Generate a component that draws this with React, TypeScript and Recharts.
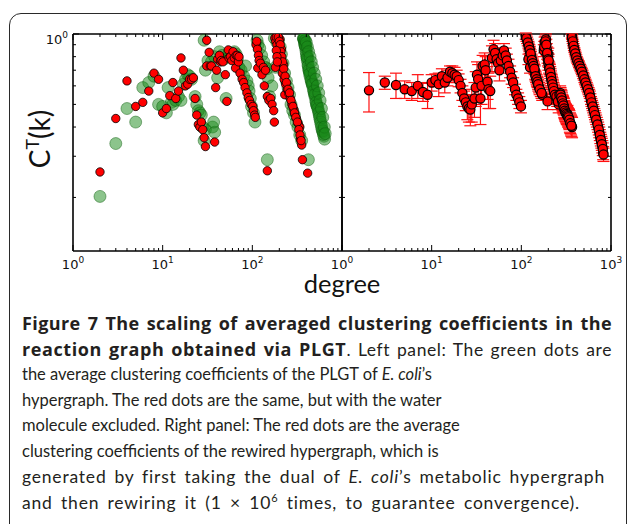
import React from 'react';
import { ScatterChart, Scatter, XAxis, YAxis, ErrorBar, ReferenceLine } from 'recharts';

// tick positions on both log axes
const xTicks = [1, 2, 3, 4, 5, 6, 7, 8, 9, 10, 20, 30, 40, 50, 60, 70, 80, 90, 100, 200, 300, 400, 500, 600, 700, 800, 900, 1000];
const yTicks = [0.2, 0.3, 0.4, 0.5, 0.6, 0.7, 0.8, 0.9, 1];

// left panel, green: PLGT of E. coli's hypergraph  [degree, C^T(k)]
const leftGreen: [number, number][] = [
  [2, 0.202], [3, 0.34], [4, 0.48], [5, 0.42], [6, 0.59], [7, 0.62], [8, 0.66], [9, 0.5], [10, 0.49],
  [11, 0.46], [11.5, 0.59], [12.5, 0.51], [13, 0.5], [14, 0.52], [15, 0.54], [16, 0.52], [17, 0.61],
  [18, 0.64], [19, 0.67], [20, 0.66], [21, 0.64], [23, 0.54], [24, 0.5], [25, 0.47], [26, 0.46],
  [27, 0.45], [28, 0.4], [29, 0.35], [30, 0.39], [36, 0.4], [38, 0.38], [37, 0.42],
  [29, 0.94], [30, 0.7], [32, 0.77], [35, 0.76], [38, 0.8], [41, 0.65], [43, 0.84], [46, 0.81],
  [48, 0.78], [51, 0.53], [55, 0.83], [57, 0.8], [59, 0.79], [63, 0.84], [66, 0.82], [68, 0.78],
  [71, 0.72], [75, 0.7], [80, 0.66], [84, 0.73], [87, 0.63], [90, 0.6], [92, 0.57], [95, 0.53],
  [98, 0.49], [103, 0.46], [107, 0.42],
  [113, 0.94], [116, 0.9], [121, 0.87], [127, 0.81], [134, 0.76], [140, 0.72], [146, 0.71],
  [150, 0.65], [156, 0.54], [147, 0.29], [165, 0.6],
  [176, 0.96], [181, 0.72], [188, 0.92], [196, 0.94], [205, 0.88], [211, 0.82], [220, 0.75],
  [229, 0.68], [240, 0.63], [250, 0.59], [260, 0.55], [270, 0.5], [282, 0.47], [295, 0.45],
  [308, 0.42], [322, 0.4], [338, 0.37], [355, 0.35], [422, 0.29],
  [372, 0.96], [375, 0.95], [380, 0.93], [385, 0.9], [392, 0.87], [398, 0.84], [405, 0.8],
  [410, 0.77], [418, 0.74], [425, 0.71], [432, 0.69], [440, 0.66], [450, 0.64], [460, 0.62],
  [470, 0.6], [480, 0.58], [490, 0.56], [500, 0.54], [510, 0.52], [520, 0.5], [530, 0.49],
  [545, 0.47], [558, 0.45], [570, 0.43], [585, 0.41], [600, 0.39], [615, 0.38], [630, 0.365],
  [640, 0.355], [378, 0.95], [395, 0.89], [415, 0.79], [445, 0.68], [475, 0.61], [505, 0.55],
  [374, 0.955], [383, 0.915], [388, 0.89], [402, 0.82], [408, 0.79], [420, 0.73], [428, 0.7],
  [436, 0.675], [455, 0.63], [465, 0.61], [485, 0.57], [495, 0.55], [515, 0.51], [525, 0.495],
  [538, 0.48], [552, 0.46], [564, 0.44], [578, 0.42], [592, 0.4], [608, 0.385], [622, 0.372],
  [390, 0.94], [400, 0.92], [412, 0.88], [425, 0.84], [440, 0.8], [455, 0.76], [470, 0.72],
  [490, 0.68], [510, 0.64], [530, 0.6], [550, 0.56], [570, 0.52], [590, 0.48], [610, 0.44],
  [635, 0.4], [650, 0.375],
];

// left panel, red: same without the water molecule
const leftRed: [number, number][] = [
  [2, 0.257], [3, 0.435], [4, 0.63], [5, 0.49], [6, 0.51], [7, 0.57], [8, 0.68], [9, 0.64],
  [10, 0.46], [11, 0.48], [12, 0.545], [13, 0.62], [14, 0.53], [15, 0.57], [16, 0.79], [17, 0.7],
  [18, 0.6], [19, 0.61], [20, 0.64], [21, 0.64], [22, 0.65], [23, 0.53], [24, 0.45], [25, 0.41],
  [26, 0.4], [27, 0.42], [28, 0.39], [29, 0.36], [30, 0.33], [31, 0.94], [33, 0.835], [31, 0.73],
  [34, 0.73], [35, 0.73], [38, 0.345], [39, 0.59], [40, 0.7], [41, 0.78], [43, 0.81], [44, 0.76],
  [45, 0.77], [47, 0.76], [50, 0.67], [52, 0.515], [54, 0.855], [55, 0.79], [57, 0.8], [59, 0.77],
  [61, 0.84], [63, 0.79], [65, 0.715], [66, 0.81], [68, 0.81], [70, 0.76], [71, 0.8], [73, 0.68],
  [77, 0.64], [80, 0.62], [83, 0.59], [87, 0.56], [90, 0.535], [93, 0.52], [97, 0.5], [101, 0.49],
  [103, 0.47], [106, 0.45], [108, 0.44], [110, 0.9], [112, 0.93], [114, 0.86], [117, 0.81],
  [119, 0.77], [115, 0.715], [123, 0.75], [128, 0.67], [133, 0.72], [136, 0.6], [140, 0.7],
  [147, 0.54], [153, 0.52], [160, 0.53], [166, 0.5], [173, 0.47], [176, 0.42], [147, 0.26],
  [178, 0.96], [183, 0.93], [188, 0.9], [196, 0.86], [192, 0.8], [198, 0.73], [181, 0.72],
  [203, 0.95], [207, 0.77], [211, 0.86], [216, 0.68], [222, 0.74], [226, 0.64], [230, 0.55],
  [235, 0.61], [245, 0.58], [256, 0.555], [265, 0.53], [276, 0.5], [290, 0.475], [298, 0.455],
  [310, 0.435], [324, 0.415], [338, 0.4], [345, 0.354], [355, 0.335], [362, 0.29], [414, 0.254],
  [185, 0.97], [195, 0.97], [200, 0.93], [205, 0.9], [208, 0.84], [213, 0.8], [218, 0.76],
  [224, 0.71], [232, 0.66], [240, 0.62], [250, 0.58], [260, 0.56], [270, 0.52], [283, 0.49],
  [295, 0.46], [305, 0.44], [318, 0.42], [330, 0.39], [340, 0.37], [350, 0.35], [185, 0.85],
  [188, 0.8], [190, 0.76],
];

// right panel: rewired hypergraph  [degree, C^T(k), error]
const rightRed: [number, number, number][] = [
  [2, 0.574, 0.11], [3, 0.62, 0.04], [4, 0.605, 0.075], [5, 0.58, 0.05], [6, 0.57, 0.05],
  [7, 0.6, 0.07], [8, 0.565, 0.05], [9, 0.55, 0.07], [10, 0.62, 0.05], [11, 0.635, 0.04],
  [12, 0.61, 0.07], [13, 0.66, 0.05], [14, 0.62, 0.06], [15, 0.65, 0.05], [16, 0.69, 0.04],
  [17, 0.68, 0.05], [18, 0.67, 0.05], [19, 0.66, 0.04], [20, 0.635, 0.04], [21, 0.6, 0.04],
  [22, 0.56, 0.04], [23, 0.53, 0.04], [24, 0.51, 0.04], [25, 0.49, 0.06], [26, 0.48, 0.06],
  [27, 0.475, 0.07], [28, 0.5, 0.08], [30, 0.53, 0.09], [31, 0.59, 0.1], [32, 0.67, 0.09],
  [33, 0.64, 0.1], [35, 0.53, 0.12], [36, 0.6, 0.1], [37, 0.73, 0.08], [39, 0.74, 0.09],
  [40, 0.7, 0.1], [42, 0.625, 0.1], [43, 0.58, 0.1], [45, 0.57, 0.09], [47, 0.79, 0.1],
  [49, 0.86, 0.08], [51, 0.83, 0.08], [53, 0.78, 0.09], [55, 0.75, 0.06], [57, 0.7, 0.07],
  [59, 0.77, 0.06], [62, 0.81, 0.06], [64, 0.85, 0.06], [67, 0.81, 0.06], [69, 0.77, 0.05],
  [72, 0.73, 0.05], [75, 0.69, 0.04], [78, 0.65, 0.04], [81, 0.62, 0.03], [85, 0.58, 0.03],
  [88, 0.55, 0.03], [92, 0.53, 0.03], [95, 0.51, 0.03], [99, 0.49, 0.03],
  [112, 0.98, 0.03], [116, 0.94, 0.03], [120, 0.9, 0.03], [123, 0.87, 0.03], [125, 0.84, 0.03],
  [128, 0.81, 0.03], [130, 0.79, 0.03], [133, 0.76, 0.03], [135, 0.74, 0.03], [138, 0.72, 0.03],
  [141, 0.7, 0.03], [143, 0.67, 0.03], [146, 0.65, 0.03], [149, 0.63, 0.03], [152, 0.62, 0.03],
  [155, 0.6, 0.03], [158, 0.59, 0.03], [165, 0.57, 0.03], [171, 0.55, 0.03], [125, 0.72, 0.04],
  [120, 0.78, 0.04], [114, 0.96, 0.03], [118, 0.92, 0.03], [121, 0.885, 0.03], [124, 0.855, 0.03],
  [127, 0.825, 0.03], [131, 0.775, 0.03], [134, 0.75, 0.03], [137, 0.73, 0.03], [140, 0.71, 0.03],
  [144, 0.66, 0.03], [148, 0.64, 0.03], [151, 0.625, 0.03], [154, 0.61, 0.03], [160, 0.58, 0.03],
  [168, 0.56, 0.03],
  [178, 0.85, 0.05], [182, 0.92, 0.05], [185, 0.89, 0.05], [188, 0.95, 0.05], [192, 0.86, 0.05],
  [196, 0.8, 0.05], [200, 0.82, 0.05], [200, 0.75, 0.05], [196, 0.515, 0.04], [204, 0.72, 0.04],
  [208, 0.7, 0.04], [212, 0.67, 0.04], [216, 0.64, 0.04], [220, 0.62, 0.04], [224, 0.6, 0.04],
  [228, 0.58, 0.04], [233, 0.56, 0.04], [242, 0.545, 0.04], [251, 0.53, 0.04], [261, 0.5, 0.04],
  [271, 0.56, 0.04], [276, 0.54, 0.04], [281, 0.53, 0.04], [287, 0.51, 0.04], [292, 0.5, 0.04],
  [298, 0.49, 0.04], [303, 0.475, 0.04], [309, 0.465, 0.04], [315, 0.46, 0.04], [321, 0.45, 0.04],
  [327, 0.455, 0.04], [333, 0.44, 0.04], [340, 0.435, 0.04], [348, 0.42, 0.04], [358, 0.41, 0.04],
  [368, 0.4, 0.04], [180, 0.88, 0.05], [186, 0.93, 0.05], [190, 0.9, 0.05], [194, 0.83, 0.05],
  [198, 0.78, 0.05], [202, 0.77, 0.05], [206, 0.71, 0.04], [210, 0.685, 0.04], [214, 0.655, 0.04],
  [218, 0.63, 0.04], [222, 0.61, 0.04], [226, 0.59, 0.04], [231, 0.57, 0.04], [237, 0.55, 0.04],
  [246, 0.54, 0.04], [256, 0.515, 0.04], [266, 0.55, 0.04], [274, 0.55, 0.04], [279, 0.535, 0.04],
  [284, 0.52, 0.04], [290, 0.505, 0.04], [295, 0.495, 0.04], [301, 0.48, 0.04], [306, 0.47, 0.04],
  [312, 0.462, 0.04], [318, 0.455, 0.04], [324, 0.45, 0.04], [330, 0.445, 0.04], [336, 0.44, 0.04],
  [344, 0.43, 0.04], [352, 0.415, 0.04], [362, 0.405, 0.04],
  [366, 0.98, 0.02], [370, 0.95, 0.02], [378, 0.91, 0.02], [386, 0.87, 0.02], [395, 0.84, 0.02],
  [405, 0.81, 0.02], [415, 0.78, 0.02], [428, 0.76, 0.02], [440, 0.74, 0.02], [453, 0.72, 0.02],
  [467, 0.7, 0.02], [482, 0.68, 0.02], [497, 0.655, 0.02], [512, 0.63, 0.02], [528, 0.61, 0.02],
  [545, 0.59, 0.02], [562, 0.57, 0.02], [580, 0.55, 0.02], [598, 0.52, 0.02], [615, 0.5, 0.02],
  [633, 0.48, 0.02], [652, 0.46, 0.02], [672, 0.44, 0.02], [695, 0.42, 0.02], [719, 0.4, 0.02],
  [740, 0.38, 0.02], [760, 0.36, 0.02], [780, 0.345, 0.02], [800, 0.33, 0.02], [818, 0.31, 0.02],
  [368, 0.97, 0.02], [374, 0.93, 0.02], [382, 0.89, 0.02], [390, 0.855, 0.02], [400, 0.825, 0.02],
  [410, 0.795, 0.02], [421, 0.77, 0.02], [434, 0.75, 0.02], [446, 0.73, 0.02], [460, 0.71, 0.02],
  [474, 0.69, 0.02], [490, 0.665, 0.02], [505, 0.64, 0.02], [520, 0.62, 0.02], [536, 0.6, 0.02],
  [553, 0.58, 0.02], [571, 0.56, 0.02], [589, 0.535, 0.02], [606, 0.51, 0.02], [624, 0.49, 0.02],
  [642, 0.47, 0.02], [662, 0.45, 0.02], [683, 0.43, 0.02], [707, 0.41, 0.02], [730, 0.39, 0.02],
  [750, 0.37, 0.02], [770, 0.352, 0.02], [790, 0.338, 0.02], [810, 0.322, 0.02], [825, 0.305, 0.02],
];

const PLOT_TOP = 34;
const PLOT_BOTTOM = 251;

const toPoints = (arr: number[][]) => arr.map(([k, c, err]) => ({ k, c, err }));

const isMajor = (v: number) => Math.abs(Math.log10(v) - Math.round(Math.log10(v))) < 1e-6;

const XTick = (props: any) => {
  const { x, payload, labels } = props;
  const v = payload.value;
  const len = isMajor(v) ? 6 : 3;
  const showLabel = labels.includes(v);
  return (
    <g>
      <line x1={x} x2={x} y1={PLOT_BOTTOM} y2={PLOT_BOTTOM - len} stroke="#000" strokeWidth={1} />
      <line x1={x} x2={x} y1={PLOT_TOP} y2={PLOT_TOP + len} stroke="#000" strokeWidth={1} />
      {showLabel && (
        <text x={x} y={269} textAnchor="middle" fontFamily="DejaVu Sans" fontSize={13} fill="#111">
          10<tspan dy={-6} fontSize={9}>{Math.round(Math.log10(v))}</tspan>
        </text>
      )}
    </g>
  );
};

const YTick = (props: any) => {
  const { y, payload, left, right, label } = props;
  const v = payload.value;
  const len = isMajor(v) ? 6 : 3;
  return (
    <g>
      <line x1={left} x2={left + len} y1={y} y2={y} stroke="#000" strokeWidth={1} />
      <line x1={right} x2={right - len} y1={y} y2={y} stroke="#000" strokeWidth={1} />
      {label && v === 1 && (
        <text x={left - 5} y={y + 10} textAnchor="end" fontFamily="DejaVu Sans" fontSize={13} fill="#111">
          10<tspan dy={-6} fontSize={9}>0</tspan>
        </text>
      )}
    </g>
  );
};

const GreenDot = (p: any) => (
  <circle cx={p.cx} cy={p.cy} r={6} fill="#1a8a1a" fillOpacity={0.5} stroke="#0a5a0a" strokeOpacity={0.45} strokeWidth={1} />
);
const RedDot = (p: any) => (
  <circle cx={p.cx} cy={p.cy} r={4.2} fill="#ff0000" stroke="#000" strokeWidth={0.8} />
);
const RedDotBig = (p: any) => (
  <circle cx={p.cx} cy={p.cy} r={4.6} fill="#ff0000" stroke="#000" strokeWidth={1.2} />
);

const axisLine = { stroke: '#000', strokeWidth: 1.6 };

function LeftPanel() {
  return (
    <ScatterChart width={345} height={300} margin={{ top: PLOT_TOP, right: 3, bottom: 0, left: 0 }}>
      <XAxis
        type="number" dataKey="k" scale="log" domain={[1, 1000]} allowDataOverflow
        ticks={xTicks} interval={0} height={49} axisLine={axisLine} tickLine={false}
        tick={<XTick labels={[1, 10, 100]} />}
      />
      <YAxis
        type="number" dataKey="c" scale="log" domain={[0.118, 1]} allowDataOverflow
        ticks={yTicks} interval={0} width={73} axisLine={axisLine} tickLine={false}
        tick={<YTick left={73} right={342} label />}
      />
      <ReferenceLine y={1} stroke="#000" strokeWidth={1.6} />
      <ReferenceLine x={1000} stroke="#000" strokeWidth={1.6} />
      <Scatter data={toPoints(leftGreen)} shape={GreenDot} isAnimationActive={false} />
      <Scatter data={toPoints(leftRed)} shape={RedDot} isAnimationActive={false} />
    </ScatterChart>
  );
}

function RightPanel() {
  return (
    <ScatterChart width={299} height={300} margin={{ top: PLOT_TOP, right: 18, bottom: 0, left: 0 }}>
      <XAxis
        type="number" dataKey="k" scale="log" domain={[1, 1000]} allowDataOverflow
        ticks={xTicks} interval={0} height={49} axisLine={axisLine} tickLine={false}
        tick={<XTick labels={[1, 10, 100, 1000]} />}
      />
      <YAxis
        type="number" dataKey="c" scale="log" domain={[0.118, 1]} allowDataOverflow
        ticks={yTicks} interval={0} width={12} axisLine={axisLine} tickLine={false}
        tick={<YTick left={12} right={281} />}
      />
      <ReferenceLine y={1} stroke="#000" strokeWidth={1.6} />
      <ReferenceLine x={1000} stroke="#000" strokeWidth={1.6} />
      <Scatter data={toPoints(rightRed)} shape={RedDotBig} isAnimationActive={false}>
        <ErrorBar dataKey="err" direction="y" stroke="#ff1010" strokeWidth={1.2} width={6} />
      </Scatter>
    </ScatterChart>
  );
}

// caption lines: justified ones get a fixed width, the rest keep their natural width
const just = (w: number, ls: number): React.CSSProperties => ({
  width: w, textAlign: 'justify', textAlignLast: 'justify', height: 25.5, letterSpacing: ls,
});
const nat: React.CSSProperties = { whiteSpace: 'nowrap', height: 25.5 };
const b: React.CSSProperties = { fontFamily: 'Open Sans', fontWeight: 700, fontSize: 18 };

export default function App() {
  return (
    <div style={{ position: 'fixed', left: 0, top: 0, width: 629, height: 524, overflow: 'hidden', background: '#fff' }}>
      <div
        style={{
          position: 'absolute', left: 9, top: 13, width: 618, height: 600, boxSizing: 'border-box',
          border: '1.6px solid #2a2a2a', borderRadius: 12,
        }}
      />
      <div style={{ position: 'absolute', left: 0, top: 0 }}>
        <LeftPanel />
      </div>
      <div style={{ position: 'absolute', left: 330, top: 0 }}>
        <RightPanel />
      </div>
      <div
        style={{
          position: 'absolute', left: 39, top: 139, transform: 'translate(-50%, -50%) rotate(-90deg)',
          fontFamily: 'Lato', fontSize: 28, lineHeight: 1, whiteSpace: 'nowrap', color: '#111',
        }}
      >
        C<span style={{ fontSize: 18, position: 'relative', top: -11 }}>T</span>(k)
      </div>
      <svg width={629} height={300} style={{ position: 'absolute', left: 0, top: 0 }}>
        <text x={342} y={293} textAnchor="middle" fontFamily="Lato" fontSize={25.5} fill="#111">
          degree
        </text>
      </svg>
      <div
        style={{
          position: 'absolute', left: 22, top: 311, fontFamily: 'Lato', fontSize: 16.5,
          lineHeight: '25.5px', color: '#231f20',
        }}
      >
        <div style={just(590, 0.4)}><span style={b}>Figure 7 The scaling of averaged clustering coefficients in the</span></div>
        <div style={{ ...just(590, 0.6), fontSize: 17.5 }}><span style={b}>reaction graph obtained via PLGT</span>. Left panel: The green dots are</div>
        <div style={nat}>the average clustering coefficients of the PLGT of <i>E. coli</i>’s</div>
        <div style={nat}>hypergraph. The red dots are the same, but with the water</div>
        <div style={nat}>molecule excluded. Right panel: The red dots are the average</div>
        <div style={nat}>clustering coefficients of the rewired hypergraph, which is</div>
        <div style={{ ...just(583, 0.8), fontSize: 17.5 }}>generated by first taking the dual of <i>E. coli</i>’s metabolic hypergraph</div>
        <div style={{ ...just(558, 0.8), fontSize: 17.5 }}>
          and then rewiring it (1 × 10<sup style={{ fontSize: 11, lineHeight: 0 }}>6</sup> times, to guarantee convergence).
        </div>
      </div>
    </div>
  );
}
